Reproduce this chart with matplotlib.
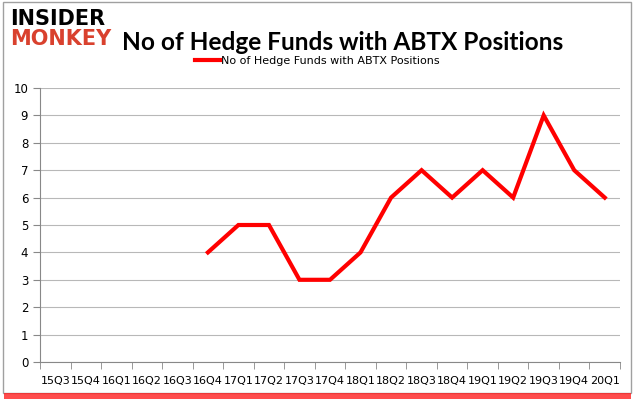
import matplotlib.pyplot as plt
import matplotlib.patches as mpatches
import numpy as np

quarters = ["15Q3", "15Q4", "16Q1", "16Q2", "16Q3", "16Q4", "17Q1", "17Q2", "17Q3", "17Q4",
            "18Q1", "18Q2", "18Q3", "18Q4", "19Q1", "19Q2", "19Q3", "19Q4", "20Q1"]
funds = [None, None, None, None, None, 4, 5, 5, 3, 3, 4, 6, 7, 6, 7, 6, 9, 7, 6]
series_name = "No of Hedge Funds with ABTX Positions"

fig = plt.figure(figsize=(6.35, 4.05), dpi=100)
fig.patch.set_facecolor("white")

# outer frame + red shadow along the bottom
fig.add_artist(mpatches.Rectangle((0.004, 0.03), 0.99, 0.965, transform=fig.transFigure,
                                  fill=False, edgecolor="#a0a0a0", linewidth=1))
fig.add_artist(mpatches.Rectangle((0.006, 0.014), 0.988, 0.016, transform=fig.transFigure,
                                  facecolor="#ff2020", edgecolor="none", alpha=0.8))

ax = fig.add_axes([40 / 635, 1 - 362 / 405, 580 / 635, 274 / 405])

x = np.arange(len(quarters))
y = np.array([np.nan if v is None else v for v in funds], dtype=float)
ax.plot(x, y, color="#ff0000", linewidth=3, label=series_name, solid_joinstyle="miter")

ax.set_xlim(-0.5, len(quarters) - 0.5)
ax.set_ylim(0, 10)
ax.set_yticks(range(0, 11))
ax.set_xticks(x)
ax.set_xticklabels(quarters, fontsize=8, family="DejaVu Sans")
ax.set_xticks(np.arange(-0.5, len(quarters)), minor=True)
ax.tick_params(axis="x", which="major", length=0, pad=10)
ax.tick_params(axis="x", which="minor", length=5, color="#888888")
ax.tick_params(axis="y", length=5, color="#888888", labelsize=8.5)
ax.grid(axis="y", color="#b8b8b8", linewidth=0.8)
ax.set_axisbelow(True)
for s in ["top", "right"]:
    ax.spines[s].set_visible(False)
for s in ["left", "bottom"]:
    ax.spines[s].set_color("#888888")

fig.text(343 / 635, 1 - 42 / 405, series_name, ha="center", va="center",
         fontsize=17.6, fontweight="bold", family="Lato")
fig.legend(loc="center", bbox_to_anchor=(0.5, 1 - 61 / 405), frameon=False,
           fontsize=8, handlelength=2.2, handletextpad=0.1)

# logo
fig.text(10 / 635, 1 - 19 / 405, "INSIDER", fontsize=15, fontweight="heavy",
         color="black", va="center", ha="left", family="DejaVu Sans")
fig.text(10 / 635, 1 - 39 / 405, "MONKEY", fontsize=15, fontweight="heavy",
         color="#d9412e", va="center", ha="left", family="DejaVu Sans")

fig.savefig("out.png", dpi=100)
